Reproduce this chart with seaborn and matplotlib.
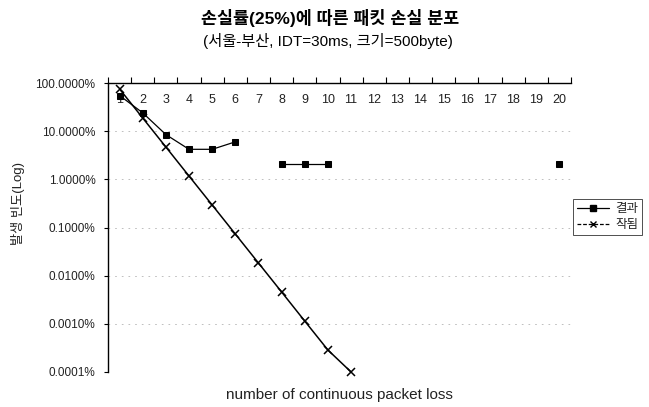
import numpy as np
import pandas as pd
import matplotlib
matplotlib.use("Agg")
import matplotlib.pyplot as plt
import seaborn as sns
from matplotlib.ticker import FixedLocator, FuncFormatter
from matplotlib.lines import Line2D

# Run length of consecutive lost packets
loss_run = list(range(1, 21))

# Measured distribution (%), None where no run of that length was seen
measured = [55.0, 24.0, 8.5, 4.2, 4.2, 6.0, None, 2.1, 2.1, 2.1,
            None, None, None, None, None, None, None, None, None, 2.1]

# Geometric model for a 25% loss rate (%)
model = [75.0, 18.75, 4.69, 1.17, 0.293, 0.0732, 0.0183, 0.00458,
         0.00114, 0.000286, 0.0001]

title = "손실률(25%)에 따른 패킷 손실 분포"
subtitle = "(서울-부산, IDT=30ms, 크기=500byte)"
series_names = ["결과", "작됨"]
x_label = "number of continuous packet loss"
y_label = "발생 빈도(Log)"
y_ticks = [1e-4, 1e-3, 1e-2, 1e-1, 1, 10, 100]

sns.set_theme(style="white")
plt.rcParams["font.family"] = ["Liberation Sans", "Noto Sans CJK KR", "DejaVu Sans"]


def segments(xs, ys):
    rows, seg = [], 0
    prev_ok = False
    for x, y in zip(xs, ys):
        if y is None:
            if prev_ok:
                seg += 1
            prev_ok = False
            continue
        rows.append({"run": x, "pct": y, "seg": seg})
        prev_ok = True
    return pd.DataFrame(rows)


df_meas = segments(loss_run, measured)
df_model = segments(loss_run[:len(model)], model)

fig = plt.figure(figsize=(6.49, 4.07), dpi=100)
ax = fig.add_axes([108 / 649, 1 - 372 / 407, (571 - 108) / 649, (372 - 83) / 407])

ax.set_yscale("log")
ax.set_ylim(1e-4, 100)
ax.set_xlim(0.5, 20.5)

# faint decade gridlines
for v in y_ticks[1:-1]:
    ax.axhline(v, color="#b4b4b4", lw=0.6, ls=(0, (2, 6)), zorder=0)

sns.lineplot(data=df_model, x="run", y="pct", units="seg", estimator=None,
             color="black", lw=1.1, marker="x", markersize=6,
             markeredgewidth=1.1, markeredgecolor="black", ax=ax,
             clip_on=False, zorder=3)
sns.lineplot(data=df_meas, x="run", y="pct", units="seg", estimator=None,
             color="black", lw=0.9, marker="s", markersize=4.5,
             markeredgecolor="black", markerfacecolor="black", ax=ax,
             clip_on=False, zorder=4)

# axes frame: left and top only
for side in ["bottom", "right"]:
    ax.spines[side].set_visible(False)
for side in ["left", "top"]:
    ax.spines[side].set_visible(True)
    ax.spines[side].set_color("black")
    ax.spines[side].set_linewidth(1.0)

# y axis
ax.yaxis.set_major_locator(FixedLocator(y_ticks))
ax.yaxis.set_minor_locator(FixedLocator([]))
ax.yaxis.set_major_formatter(FuncFormatter(lambda v, p: f"{v:.4f}%"))
ax.tick_params(axis="y", which="major", left=True, length=3, width=0.8,
               color="black", labelsize=8.5, labelcolor="#222222", pad=6)
ax.set_ylabel("")
fig.text(18 / 649, 1 - 203 / 407, y_label, rotation=90, ha="center",
         va="center", fontsize=9.5, color="#222222")

# category axis along the top, labels inside the plot
ax.xaxis.set_major_locator(FixedLocator(loss_run))
ax.xaxis.set_minor_locator(FixedLocator(np.arange(0.5, 21.0, 1.0)))
ax.set_xticklabels([str(v) for v in loss_run])
ax.tick_params(axis="x", which="major", top=True, bottom=False,
               labeltop=True, labelbottom=False, length=0,
               pad=-8, labelsize=9, labelcolor="#222222")
ax.tick_params(axis="x", which="minor", top=True, bottom=False,
               length=4, width=0.8, direction="out", color="black")
for lbl in ax.get_xticklabels():
    lbl.set_verticalalignment("top")
ax.set_xlabel("")

fig.text(339.5 / 649, 1 - 395 / 407, x_label, ha="center", va="center",
         fontsize=11, color="#222222")
fig.text(330 / 649, 1 - 18 / 407, title, ha="center", va="center",
         fontsize=12.5, fontweight="bold", color="black")
fig.text(328 / 649, 1 - 41 / 407, subtitle, ha="center", va="center",
         fontsize=11, color="black")

# legend
handles = [
    Line2D([], [], color="black", lw=0.9, marker="s", markersize=4,
           markerfacecolor="black"),
    Line2D([], [], color="black", lw=0.9, ls=(0, (3, 1.5)), marker="x",
           markersize=5, markeredgewidth=1.0),
]
leg = fig.legend(handles, series_names, loc="center left",
                 bbox_to_anchor=(573 / 649, 1 - 217 / 407),
                 fontsize=9, frameon=True, fancybox=False,
                 handlelength=2.6, handletextpad=0.5, borderpad=0.3,
                 labelspacing=0.3, borderaxespad=0)
leg.get_frame().set_edgecolor("black")
leg.get_frame().set_linewidth(0.6)

fig.savefig("out.png", dpi=100)
